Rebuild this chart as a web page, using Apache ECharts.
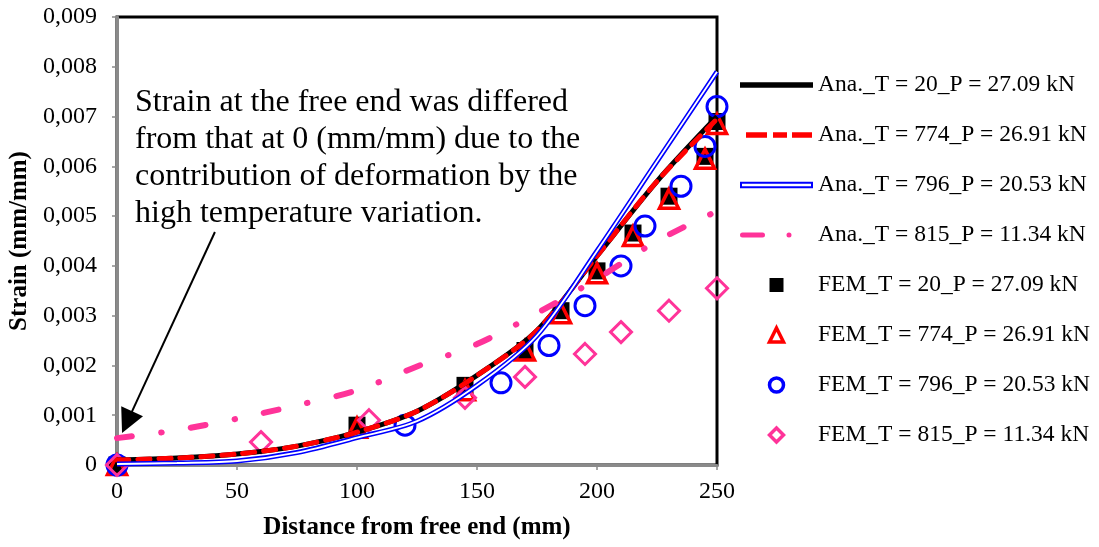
<!DOCTYPE html>
<html>
<head>
<meta charset="utf-8">
<script src="https://cdn.jsdelivr.net/npm/echarts@6/dist/echarts.min.js"></script>
<style>
html, body { margin: 0; padding: 0; background: #fff; }
#main { width: 1099px; height: 547px; }
</style>
</head>
<body>
<div id="main"></div>
<script>
// analytical curves, sampled every 25 mm
var anaX = [0, 25, 50, 75, 100, 125, 150, 175, 200, 225, 250]
var ana20 = [0.0001, 0.00014, 0.00022, 0.00038, 0.00066, 0.00108, 0.0018, 0.0027, 0.0042, 0.0057, 0.0070]
var ana774 = [0.0001, 0.00014, 0.00022, 0.00038, 0.00066, 0.00108, 0.0018, 0.0027, 0.0042, 0.0057, 0.00695]
var ana796 = [0.00002, 0.00004, 0.00008, 0.00025, 0.00055, 0.00088, 0.0016, 0.0026, 0.0043, 0.0061, 0.0079]
var ana815 = [0.00054, 0.0007, 0.00093, 0.0012, 0.0015, 0.00198, 0.00243, 0.00305, 0.00374, 0.0045, 0.0051]

// FEM points
var fem20X = [0, 100, 145, 170, 185, 200, 215, 230, 245, 250]
var fem20Y = [0, 0.0008, 0.0016, 0.0023, 0.0031, 0.0039, 0.00466, 0.0054, 0.0062, 0.0069]
var fem774X = [0, 100, 145, 170, 185, 200, 215, 230, 245, 250]
var fem774Y = [0, 0.00075, 0.0015, 0.0023, 0.00305, 0.00385, 0.0046, 0.00535, 0.00615, 0.00685]
var fem796X = [0, 120, 160, 180, 195, 210, 220, 235, 245, 250]
var fem796Y = [0, 0.0008, 0.00165, 0.0024, 0.0032, 0.004, 0.0048, 0.0056, 0.0064, 0.0072]
var fem815X = [0, 60, 105, 145, 170, 195, 210, 230, 250]
var fem815Y = [0, 0.00046, 0.0009, 0.00135, 0.00177, 0.00223, 0.00267, 0.0031, 0.00355]

var seriesNames = [
    'Ana._T = 20_P = 27.09 kN',
    'Ana._T = 774_P = 26.91 kN',
    'Ana._T = 796_P = 20.53 kN',
    'Ana._T = 815_P = 11.34 kN',
    'FEM_T = 20_P = 27.09 kN',
    'FEM_T = 774_P = 26.91 kN',
    'FEM_T = 796_P = 20.53 kN',
    'FEM_T = 815_P = 11.34 kN'
]

// x ticks and y ticks
var xTicks = [0, 50, 100, 150, 200, 250]
var yTicks = [0, 0.001, 0.002, 0.003, 0.004, 0.005, 0.006, 0.007, 0.008, 0.009]

var note = 'Strain at the free end was differed\nfrom that at 0 (mm/mm) due to the\ncontribution of deformation by the\nhigh temperature variation.'
// arrow from the note down to the free end
var arrowFrom = [40.8, 0.00468]
var arrowTo = [4.2, 0.00086]

var FONT = '"Liberation Serif", "Times New Roman", serif'
var PINK = '#ff3399'
var BLUE = '#0000ff'
var RED = '#ff0000'
var GRAY = '#8a8a8a'

function pairs(xs, ys) {
    return xs.map(function (x, i) { return [x, ys[i]] })
}

var myChart = echarts.init(document.getElementById('main'))

myChart.setOption({
    animation: false,
    backgroundColor: '#fff',
    grid: {
        left: 117, right: 382, top: 17, bottom: 82,
        show: true, borderColor: '#000', borderWidth: 3, backgroundColor: '#fff',
        outerBoundsMode: 'none'
    },
    xAxis: {
        type: 'value',
        min: xTicks[0], max: xTicks[xTicks.length - 1], interval: 50,
        name: 'Distance from free end (mm)',
        nameLocation: 'middle', nameGap: 50,
        nameTextStyle: { fontFamily: FONT, fontSize: 25, fontWeight: 'bold', color: '#000' },
        axisLine: { show: true, onZero: false, lineStyle: { color: GRAY, width: 3 } },
        axisTick: { show: true, length: 5, lineStyle: { color: GRAY, width: 1.5 } },
        axisLabel: { fontFamily: FONT, fontSize: 24, color: '#000', margin: 15 },
        splitLine: { show: false }
    },
    yAxis: {
        type: 'value',
        min: yTicks[0], max: yTicks[yTicks.length - 1], interval: 0.001,
        name: 'Strain (mm/mm)',
        nameLocation: 'middle', nameGap: 82,
        nameTextStyle: { fontFamily: FONT, fontSize: 25, fontWeight: 'bold', color: '#000' },
        axisLine: { show: true, onZero: false, lineStyle: { color: GRAY, width: 3 } },
        axisTick: { show: true, length: 5, lineStyle: { color: GRAY, width: 1.5 } },
        axisLabel: {
            fontFamily: FONT, fontSize: 24, color: '#000', margin: 20,
            formatter: function (v) {
                return v === 0 ? '0' : v.toFixed(3).replace('.', ',')
            }
        },
        splitLine: { show: false }
    },
    legend: {
        orient: 'vertical', left: 735, top: 68,
        itemWidth: 73, itemHeight: 14, itemGap: 26,
        selectedMode: false, symbolKeepAspect: true,
        textStyle: { fontFamily: FONT, fontSize: 23.5, color: '#000' },
        data: [
            { name: seriesNames[0], icon: 'path://M0,0H73V5.5H0Z', itemStyle: { color: '#000', borderWidth: 0, opacity: 1 } },
            { name: seriesNames[1], icon: 'path://M0,2.5M6,0H27V5.5H6Z M33,0H47V5.5H33Z M52,0H72V5.5H52Z M73,2.5', itemStyle: { color: RED, borderWidth: 0, opacity: 1 } },
            { name: seriesNames[2], icon: 'path://M0,0H73V6.5H0Z M2,2V4.5H71V2Z', itemStyle: { color: BLUE, borderWidth: 0, opacity: 1 } },
            { name: seriesNames[3], icon: 'path://M2.5,0H22.5A2.5,2.5,0,0,1,22.5,5H2.5A2.5,2.5,0,0,1,2.5,0Z M49,0A2.5,2.5,0,0,1,49,5A2.5,2.5,0,0,1,49,0Z M73,2.5', itemStyle: { color: PINK, borderWidth: 0, opacity: 1 } },
            { name: seriesNames[4], icon: 'path://M0,0H10V10H0Z', itemStyle: { color: '#000', borderWidth: 0, opacity: 1 } },
            { name: seriesNames[5], icon: 'path://M5,0L10,10H0Z', itemStyle: { color: 'rgba(0,0,0,0)', borderColor: RED, borderWidth: 3.5, opacity: 1 } },
            { name: seriesNames[6], icon: 'circle', itemStyle: { color: 'rgba(0,0,0,0)', borderColor: BLUE, borderWidth: 3.5, opacity: 1 } },
            { name: seriesNames[7], icon: 'path://M5,0L10,5L5,10L0,5Z', itemStyle: { color: 'rgba(0,0,0,0)', borderColor: PINK, borderWidth: 3.5, opacity: 1 } }
        ]
    },
    graphic: [{
        type: 'text', left: 135, top: 84, silent: true,
        style: { text: note, fontFamily: FONT, fontSize: 32, lineHeight: 37, fill: '#000' }
    }],
    series: [
        {
            name: seriesNames[0], type: 'line', data: pairs(anaX, ana20),
            smooth: 0.3, symbol: 'none', silent: true, clip: false,
            lineStyle: { color: '#000', width: 5 }, itemStyle: { color: '#000' },
            markLine: {
                silent: true, symbol: ['none', 'triangle'], symbolSize: 24,
                label: { show: false },
                lineStyle: { color: '#000', width: 2, type: 'solid', opacity: 1 },
                itemStyle: { color: '#000' },
                data: [[{ coord: arrowFrom }, { coord: arrowTo }]]
            }
        },
        {
            name: seriesNames[1], type: 'line', data: pairs(anaX, ana774),
            smooth: 0.3, symbol: 'none', silent: true, clip: false,
            lineStyle: { color: RED, width: 5, type: [12, 9], cap: 'round' }, itemStyle: { color: RED }
        },
        {
            name: seriesNames[2], type: 'line', data: pairs(anaX, ana796),
            smooth: 0.3, symbol: 'none', silent: true, clip: false,
            lineStyle: { color: BLUE, width: 5 }, itemStyle: { color: BLUE }
        },
        {
            // white core of the double line
            name: 'ana796core', type: 'line', data: pairs(anaX, ana796),
            smooth: 0.3, symbol: 'none', silent: true, clip: false,
            lineStyle: { color: '#fff', width: 1.8 }, itemStyle: { color: '#fff' }
        },
        {
            name: seriesNames[3], type: 'line', data: pairs(anaX, ana815),
            smooth: 0.3, symbol: 'none', silent: true, clip: false,
            lineStyle: { color: PINK, width: 6, type: [15, 29.5, 0.5, 29.5], cap: 'round' }, itemStyle: { color: PINK }
        },
        {
            name: seriesNames[4], type: 'scatter', data: pairs(fem20X, fem20Y),
            symbol: 'rect', symbolSize: 17, silent: true, clip: false,
            itemStyle: { color: '#000', opacity: 1 }
        },
        {
            name: seriesNames[5], type: 'scatter', data: pairs(fem774X, fem774Y),
            symbol: 'triangle', symbolSize: 19, silent: true, clip: false,
            itemStyle: { color: 'rgba(0,0,0,0)', borderColor: RED, borderWidth: 3.5, opacity: 1 }
        },
        {
            name: seriesNames[6], type: 'scatter', data: pairs(fem796X, fem796Y),
            symbol: 'circle', symbolSize: 20, silent: true, clip: false,
            itemStyle: { color: 'rgba(0,0,0,0)', borderColor: BLUE, borderWidth: 3, opacity: 1 }
        },
        {
            name: seriesNames[7], type: 'scatter', data: pairs(fem815X, fem815Y),
            symbol: 'diamond', symbolSize: 21, silent: true, clip: false,
            itemStyle: { color: 'rgba(0,0,0,0)', borderColor: PINK, borderWidth: 3, opacity: 1 }
        }
    ]
})

window.addEventListener('resize', myChart.resize)
</script>
</body>
</html>
